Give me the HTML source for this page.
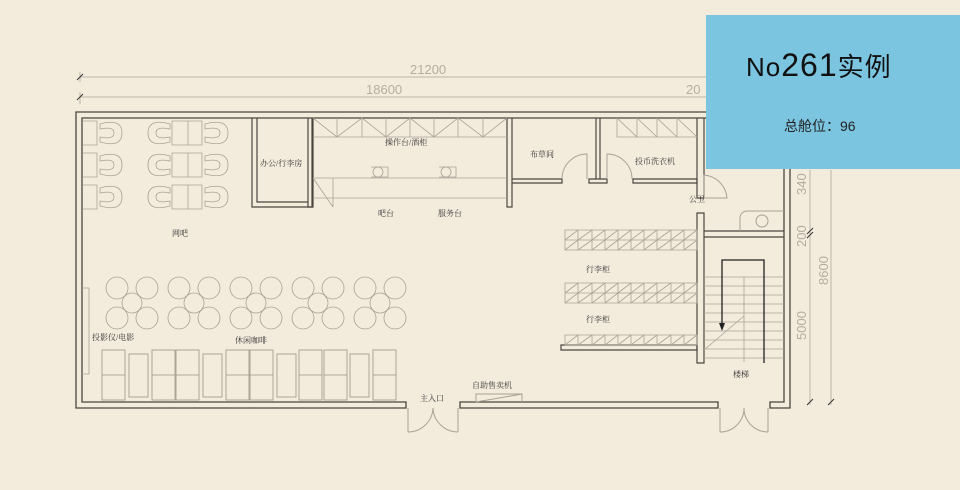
<!DOCTYPE html>
<html><head><meta charset="utf-8"><style>
html,body{margin:0;padding:0;background:#f3ebdc;}
svg{display:block}
.t{font-family:"Liberation Serif","Noto Serif CJK SC",serif;font-size:8px;fill:#333}
</style></head><body>
<svg width="960" height="490" viewBox="0 0 960 490" xmlns="http://www.w3.org/2000/svg">
<rect width="960" height="490" fill="#f3ebdc"/>
<g stroke="#bdb6a8" stroke-width="1" fill="none">
<line x1="80" y1="77" x2="800" y2="77"/>
<line x1="80" y1="97" x2="706" y2="97"/>
<line x1="80" y1="72" x2="80" y2="82"/><line x1="80" y1="92" x2="80" y2="104"/>
<line x1="810" y1="170" x2="810" y2="405"/>
<line x1="831" y1="170" x2="831" y2="405"/>
</g>
<g stroke="#333" stroke-width="1"><line x1="77" y1="80" x2="83" y2="74"/><line x1="77" y1="100" x2="83" y2="94"/>
<line x1="807" y1="405" x2="813" y2="399"/><line x1="828" y1="405" x2="834" y2="399"/><line x1="807" y1="234" x2="813" y2="228"/><line x1="807" y1="238" x2="813" y2="232"/></g>
<g font-family="Liberation Sans,sans-serif" font-size="13" fill="#b5ada0">
<text x="410" y="74">21200</text><text x="366" y="94">18600</text><text x="686" y="94">20</text>
<text transform="translate(806,340) rotate(-90)">5000</text>
<text transform="translate(806,247) rotate(-90)">200</text>
<text transform="translate(806,195) rotate(-90)">340</text>
<text transform="translate(828,285) rotate(-90)">8600</text>
</g>
<g fill="none" stroke="#4a4540" stroke-width="1.3">
<path d="M406 408 H76 V112 H790 V408 H770 V402 H784 V118 H82 V402 H406 Z"/>
<path d="M460 402 H718 V408 H460 Z"/>
</g>
<g fill="none" stroke="#a8a195" stroke-width="1">
<path d="M408 408 V432 M458 408 V432 M408 432 A25 25 0 0 0 433 408 M458 432 A25 25 0 0 1 433 408"/>
<path d="M720 408 V432 M768 408 V432 M720 432 A24 24 0 0 0 744 408 M768 432 A24 24 0 0 1 744 408"/>
<path d="M476 402 V394 H522 V402 M476 402 L522 394"/>
</g>
<g fill="none" stroke="#4a4540" stroke-width="1.2">
<path d="M252 118 V207 H312 V118 M257 118 V202 H308"/>
<path d="M308 118 V207 H313 V118"/>
<path d="M507 118 V207 H512 V118"/>
<path d="M512 179 H562 V183 H512"/>
<path d="M589 179 H607 V183 H589 Z M596 118 V179 M600 118 V179"/>
<path d="M633 179 H697 V183 H633 Z"/>
<path d="M697 118 V198 M704 118 V198 M697 198 H704"/>
<path d="M697 213 H704 V363 H697 Z"/>
<path d="M704 231 H784 M704 237 H784"/>
<path d="M561 345 H697 V350 H561 Z"/>
</g>
<g fill="none" stroke="#a8a195" stroke-width="1">
<path d="M562 179 A25 25 0 0 1 587 154 V179"/>
<path d="M607 179 V154 A25 25 0 0 1 632 179"/>
<path d="M704 198 V175 A25 25 0 0 1 727 198 Z"/>
<path d="M740 231 V218 A7 7 0 0 1 747 211 H784"/>
<circle cx="762" cy="221" r="6"/>
</g>
<g fill="none" stroke="#aaa396" stroke-width="0.8">
<path d="M313 137 H507 M313 178 H507 M313 198 H507 M333 178 V207 M313 178 L333 207"/>
<path d="M313 118 L337 137 L362 118 L386 137 L410 118 L434 137 L458 118 L483 137 L507 118"/>
<path d="M337 118 V137 M362 118 V137 M386 118 V137 M410 118 V137 M434 118 V137 M458 118 V137 M483 118 V137"/>
<path d="M617 118 V137 H697 M617 118 L637 137 M637 118 L657 137 M657 118 L677 137 M677 118 L697 137 M637 118 V137 M657 118 V137 M677 118 V137"/>
<circle cx="378" cy="172" r="5"/><circle cx="446" cy="172" r="5"/>
<path d="M371 167 H388 V177 H371 M439 167 H456 V177 H439"/>
</g>
<g fill="none" stroke="#aaa396" stroke-width="0.8">
<path d="M565 230 H697 V250 H565 Z M565 240 H697"/>
<path d="M565 283 H697 V303 H565 Z M565 293 H697"/>
<path d="M565 335 H697 V345 H565 Z"/>
<path d="M578 230V250M592 230V250M605 230V250M618 230V250M631 230V250M644 230V250M657 230V250M671 230V250M684 230V250"/>
<path d="M578 283V303M592 283V303M605 283V303M618 283V303M631 283V303M644 283V303M657 283V303M671 283V303M684 283V303"/>
<path d="M578 335V345M592 335V345M605 335V345M618 335V345M631 335V345M644 335V345M657 335V345M671 335V345M684 335V345"/>
<path d="M565 240L578 230M578 240L592 230M592 240L605 230M605 240L618 230M618 240L631 230M631 240L644 230M644 240L657 230M657 240L671 230M671 240L684 230M684 240L697 230"/>
<path d="M565 250L578 240M578 250L592 240M592 250L605 240M605 250L618 240M618 250L631 240M631 250L644 240M644 250L657 240M657 250L671 240M671 250L684 240M684 250L697 240"/>
<path d="M565 293L578 283M578 293L592 283M592 293L605 283M605 293L618 283M618 293L631 283M631 293L644 283M644 293L657 283M657 293L671 283M671 293L684 283M684 293L697 283"/>
<path d="M565 303L578 293M578 303L592 293M592 303L605 293M605 303L618 293M618 303L631 293M631 303L644 293M644 303L657 293M657 303L671 293M671 303L684 293M684 303L697 293"/>
<path d="M565 345L578 335M578 345L592 335M592 345L605 335M605 345L618 335M618 345L631 335M631 345L644 335M644 345L657 335M657 345L671 335M671 345L684 335M684 345L697 335"/>
</g>
<g stroke="#aaa396" stroke-width="0.8" fill="none">
<path d="M704 277H784M704 286H784M704 295H784M704 304H784M704 313H784M704 322H784M704 331H784M704 340H784M704 349H784M704 358H784"/>
<path d="M744 277 V362 M704 350 L744 316"/>
</g>
<path d="M722 323 V260 H764 V363" fill="none" stroke="#222" stroke-width="1.3"/>
<path d="M719 323 L725 323 L722 331 Z" fill="#222"/>
<g fill="none" stroke="#aaa396" stroke-width="0.8">
<g id="r1">
<path d="M83 121 H97 V145 H83 M100 124 Q122 118 122 133 Q122 148 100 142 V137 Q114 140 114 133 Q114 126 100 129 Z"/>
<path d="M172 121 H188 V145 H172 Z M188 121 H202 V145 H188 Z"/>
<path d="M170 124 Q148 118 148 133 Q148 148 170 142 V137 Q156 140 156 133 Q156 126 170 129 Z"/>
<path d="M205 124 Q228 118 228 133 Q228 148 205 142 V137 Q220 140 220 133 Q220 126 205 129 Z"/>
</g>
<use href="#r1" y="32"/><use href="#r1" y="64"/>
</g>
<g fill="none" stroke="#aaa396" stroke-width="0.8">
<g id="g1"><circle cx="132" cy="303" r="10"/><circle cx="117" cy="288" r="11"/><circle cx="147" cy="288" r="11"/><circle cx="117" cy="318" r="11"/><circle cx="147" cy="318" r="11"/></g>
<use href="#g1" x="62"/><use href="#g1" x="124"/><use href="#g1" x="186"/><use href="#g1" x="248"/>
<path d="M82 288 H89 V374 H82"/>
</g>
<g fill="none" stroke="#9a9386" stroke-width="0.8">
<g id="s1"><rect x="102" y="350" width="23" height="50"/><path d="M102 375 H125"/></g>
<use href="#s1" x="50"/><use href="#s1" x="74"/><use href="#s1" x="124"/><use href="#s1" x="148"/><use href="#s1" x="197"/><use href="#s1" x="222"/><use href="#s1" x="271"/>
<rect x="129" y="354" width="19" height="43"/><rect x="203" y="354" width="19" height="43"/><rect x="277" y="354" width="19" height="43"/><rect x="350" y="354" width="19" height="43"/>
</g>
<g class="t">
<text x="260" y="166">办公/行李房</text>
<text x="385" y="145">操作台/酒柜</text>
<text x="378" y="216">吧台</text><text x="438" y="216">服务台</text>
<text x="530" y="157">布草间</text><text x="635" y="164">投币洗衣机</text>
<text x="689" y="202">公卫</text>
<text x="172" y="236">网吧</text>
<text x="586" y="272">行李柜</text><text x="586" y="322">行李柜</text>
<text x="92" y="340">投影仪/电影</text><text x="235" y="343">休闲咖啡</text>
<text x="420" y="401">主入口</text><text x="472" y="388">自助售卖机</text>
<text x="733" y="377">楼梯</text>
</g>
<rect x="706" y="15" width="254" height="154" fill="#7bc5e1"/>
<text x="746" y="76" font-family="Liberation Sans,'Noto Sans CJK SC',sans-serif" font-size="26" fill="#111" letter-spacing="1">No<tspan font-size="32">261</tspan>实例</text>
<text x="784" y="131" font-family="Liberation Sans,'Noto Sans CJK SC',sans-serif" font-size="14" fill="#222">总舱位：96</text>
</svg>
</body></html>
